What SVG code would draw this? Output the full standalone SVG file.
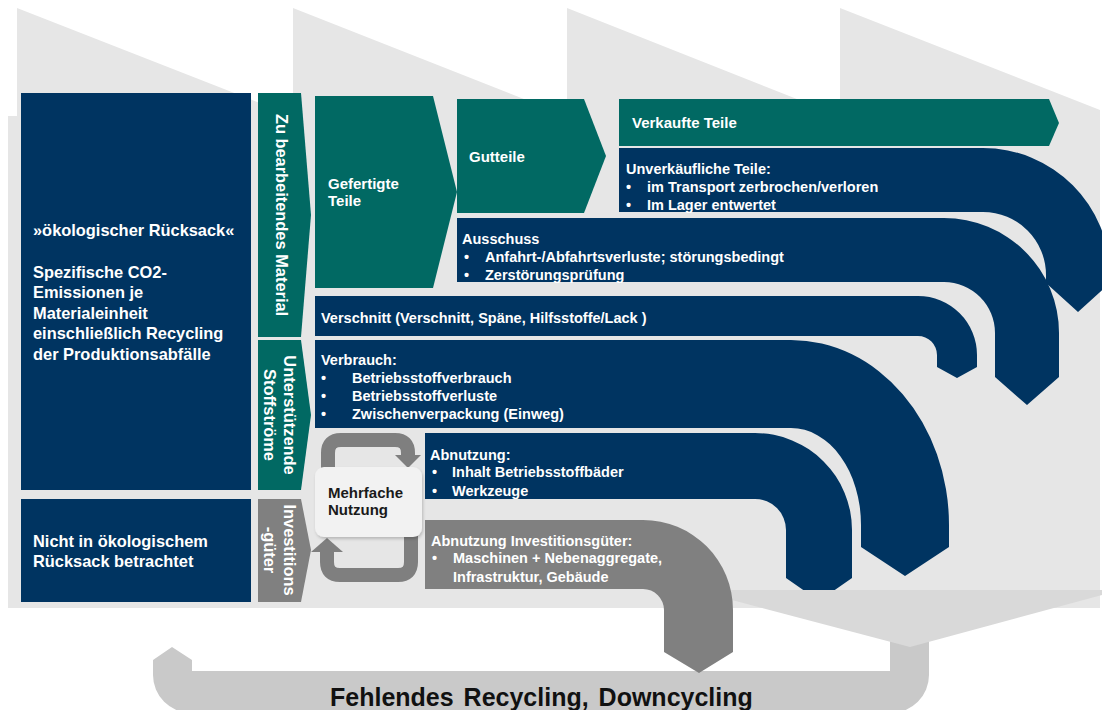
<svg xmlns="http://www.w3.org/2000/svg" width="1102" height="710" viewBox="0 0 1102 710">
<style>
.navy{fill:#003461}
.teal{fill:#016963}
.gry{fill:#808080}
.t{font-family:"Liberation Sans",Arial,sans-serif;font-weight:bold;fill:#ffffff}
.f14{font-size:14.5px}
.f15{font-size:15px}
.f16{font-size:16.4px}
.dark{fill:#1a1a1a}
.loop{fill:none;stroke:#7f7f7f;stroke-width:14}
.arrowhead{fill:#7f7f7f}
</style>
<defs>
<filter id="sh" x="-20%" y="-20%" width="140%" height="140%">
<feDropShadow dx="1" dy="2" stdDeviation="1.5" flood-color="#000" flood-opacity="0.2"/>
</filter>
</defs>

<g id="background">
<path d="M 8 608 V 116 H 17 V 8 L 293 116 V 8 L 567 116 V 8 L 840 116 V 8 L 1100 110 V 608 Z" fill="#e6e6e6"/>
</g>

<g id="connectors">
<path id="recycling" d="M 153 660 L 172 647 L 192 660 V 671 H 890 V 630 H 929 V 675 A 38 38 0 0 1 891 713 H 191 A 38 38 0 0 1 153 675 Z" fill="#c9c9c9"/>
</g>

<g id="unverkaeuflich">
<path class="navy" d="M 619 148 H 983 A 127 127 0 0 1 1110 275 V 283 L 1078 312 L 1046 283 V 275 A 63 63 0 0 0 983 212 H 619 Z"/>
<text class="t f14" x="626" y="174">Unverkäufliche Teile:</text>
<text class="t f14" x="626" y="192">•</text><text class="t f14" x="647" y="192">im Transport zerbrochen/verloren</text>
<text class="t f14" x="626" y="210">•</text><text class="t f14" x="647" y="210">Im Lager entwertet</text>
</g>

<g id="ausschuss">
<path class="navy" d="M 457 218 H 944 A 115 115 0 0 1 1059 333 V 377 L 1027 405 L 995 377 V 333 A 51 51 0 0 0 944 282 H 457 Z"/>
<text class="t f14" x="462" y="244">Ausschuss</text>
<text class="t f14" x="464" y="262">•</text><text class="t f14" x="485" y="262">Anfahrt-/Abfahrtsverluste; störungsbedingt</text>
<text class="t f14" x="464" y="280">•</text><text class="t f14" x="485" y="280">Zerstörungsprüfung</text>
</g>

<g id="verschnitt">
<path class="navy" d="M 315 296 H 918 A 59 59 0 0 1 977 355 V 367 L 957 378 L 937 367 V 355 A 19 19 0 0 0 918 336 H 315 Z"/>
<text class="t f14" x="321" y="323">Verschnitt (Verschnitt, Späne, Hilfsstoffe/Lack )</text>
</g>

<g id="verbrauch">
<path class="navy" d="M 315 340 H 791 A 158 185 0 0 1 949 525 V 547 L 905 576 L 861 547 V 525 A 70 97 0 0 0 791 428 H 315 Z"/>
<text class="t f14" x="321" y="365">Verbrauch:</text>
<text class="t f14" x="321" y="383">•</text><text class="t f14" x="352" y="383">Betriebsstoffverbrauch</text>
<text class="t f14" x="321" y="401">•</text><text class="t f14" x="352" y="401">Betriebsstoffverluste</text>
<text class="t f14" x="321" y="419">•</text><text class="t f14" x="352" y="419">Zwischenverpackung (Einweg)</text>
</g>

<g id="abnutzung">
<path class="navy" d="M 425 433 H 755 A 97 97 0 0 1 852 530 V 578 L 819 601 L 786 578 V 530 A 31 31 0 0 0 755 499 H 425 Z"/>
<text class="t f14" x="430" y="460">Abnutzung:</text>
<text class="t f14" x="432" y="477">•</text><text class="t f14" x="452" y="477">Inhalt Betriebsstoffbäder</text>
<text class="t f14" x="432" y="496">•</text><text class="t f14" x="452" y="496">Werkzeuge</text>
</g>

<g id="funnel">
<path d="M 694 590 H 1102 V 595 L 910 647 Z" fill="#d9d9d9"/>
</g>

<g id="abnutzung-investitionsgueter">
<path class="gry" d="M 425 520 H 643 A 90 90 0 0 1 733 610 V 652 L 699 673 L 664 652 V 610 A 21 21 0 0 0 643 589 H 425 Z"/>
<text class="t f14" x="431" y="546">Abnutzung Investitionsgüter:</text>
<text class="t f14" x="432" y="563">•</text><text class="t f14" x="453" y="563">Maschinen + Nebenaggregate,</text>
<text class="t f14" x="453" y="582">Infrastruktur, Gebäude</text>
</g>

<g id="oekologischer-rucksack">
<rect class="navy" x="21" y="93" width="230" height="397"/>
<text class="t f16" x="33" y="236">»ökologischer Rücksack«</text>
<text class="t f16" x="33" y="278">Spezifische CO2-</text>
<text class="t f16" x="33" y="298">Emissionen je</text>
<text class="t f16" x="33" y="319">Materialeinheit</text>
<text class="t f16" x="33" y="339">einschließlich Recycling</text>
<text class="t f16" x="33" y="360">der Produktionsabfälle</text>
</g>

<g id="nicht-betrachtet">
<rect class="navy" x="21" y="499" width="230" height="103"/>
<text class="t f16" x="33" y="547">Nicht in ökologischem</text>
<text class="t f16" x="33" y="567">Rücksack betrachtet</text>
</g>

<g id="zu-bearbeitendes-material">
<path class="teal" d="M 258 93 H 301 L 311 215 L 301 337 H 258 Z"/>
<text class="t f16" x="282" y="215" text-anchor="middle" dominant-baseline="central" transform="rotate(90 282 215)">Zu bearbeitendes Material</text>
</g>

<g id="unterstuetzende-stoffstroeme">
<path class="teal" d="M 258 340 H 301 L 311 415 L 301 490 H 258 Z"/>
<text class="t f16" x="290" y="415" text-anchor="middle" dominant-baseline="central" transform="rotate(90 290 415)">Unterstützende</text>
<text class="t f16" x="270" y="415" text-anchor="middle" dominant-baseline="central" transform="rotate(90 270 415)">Stoffströme</text>
</g>

<g id="investitionsgueter">
<path class="gry" d="M 258 499 H 301 L 311 550 L 301 602 H 258 Z"/>
<text class="t f16" x="290" y="550" text-anchor="middle" dominant-baseline="central" transform="rotate(90 290 550)">Investitions</text>
<text class="t f16" x="270" y="550" text-anchor="middle" dominant-baseline="central" transform="rotate(90 270 550)">-güter</text>
</g>

<g id="gefertigte-teile">
<path class="teal" d="M 315 96 H 433 L 457 192 L 433 288 H 315 Z"/>
<text class="t f15" x="328" y="189">Gefertigte</text>
<text class="t f15" x="328" y="206">Teile</text>
</g>

<g id="gutteile">
<path class="teal" d="M 457 99 H 584 L 606 156 L 584 213 H 457 Z"/>
<text class="t f15" x="469" y="162">Gutteile</text>
</g>

<g id="verkaufte-teile">
<path class="teal" d="M 619 99 H 1049 L 1059 123 L 1049 146 H 619 Z"/>
<text class="t f15" x="632" y="128">Verkaufte Teile</text>
</g>

<g id="mehrfach-loops">
<path class="loop" d="M 328 468 V 453 Q 328 440 341 440 H 395 Q 408 440 408 453 V 457"/>
<polygon class="arrowhead" points="395,455 421,455 408,468"/>
<path class="loop" d="M 411 536 V 562 Q 411 575 398 575 H 340 Q 327 575 327 562 V 550"/>
<polygon class="arrowhead" points="311,552 343,552 327,538"/>
</g>

<g id="mehrfache-nutzung">
<rect x="315" y="467" width="107" height="70" rx="9" fill="#f2f2f2" filter="url(#sh)"/>
<text class="t f15 dark" x="328" y="498">Mehrfache</text>
<text class="t f15 dark" x="328" y="515">Nutzung</text>
</g>

<g id="fehlendes-recycling">
<text x="330" y="706" font-family="Liberation Sans, Arial, sans-serif" font-weight="bold" font-size="25" fill="#111111" word-spacing="3">Fehlendes Recycling, Downcycling</text>
</g>
</svg>
